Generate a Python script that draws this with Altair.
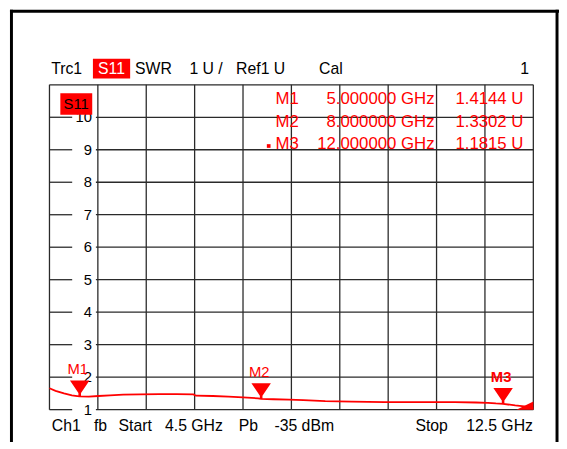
import altair as alt
import pandas as pd

# ---------------- data ----------------
freq_ghz = [4.5, 4.6, 4.74, 4.87, 4.96, 5.0, 5.15, 5.31, 5.5, 5.72, 6.0, 6.32, 6.6, 6.88,
            6.92, 7.2, 7.46, 7.7, 7.95, 8.0, 8.2, 8.46, 8.7, 9.06, 9.5, 10.04, 10.5, 10.85,
            11.2, 11.55, 11.75, 11.88, 12.0, 12.2, 12.35, 12.45, 12.5]
swr = [1.66, 1.58, 1.50, 1.44, 1.42, 1.41, 1.40, 1.42, 1.44, 1.46, 1.47, 1.48, 1.48, 1.47,
       1.43, 1.42, 1.40, 1.38, 1.35, 1.33, 1.32, 1.31, 1.29, 1.26, 1.25, 1.23, 1.23, 1.23,
       1.23, 1.22, 1.21, 1.19, 1.18, 1.13, 1.10, 1.06, 1.03]

marker_names = ["M1", "M2", "M3"]
marker_freq = [5.0, 8.0, 12.0]
marker_swr = [1.4144, 1.3302, 1.1815]
marker_freq_text = ["5.000000 GHz", "8.000000 GHz", "12.000000 GHz"]
marker_val_text = ["1.4144 U", "1.3302 U", "1.1815 U"]

tail_freq = [12.22, 12.5]
tail_low = [1.0, 1.0]
tail_high = [1.0, 1.25]

y_ticks = [1, 2, 3, 4, 5, 6, 7, 8, 9, 10]
x_grid = [4.5, 5.3, 6.1, 6.9, 7.7, 8.5, 9.3, 10.1, 10.9, 11.7, 12.5]

header_words = ["Trc1", "S11", "SWR", "1 U /", "Ref1 U", "Cal", "1"]
footer_words = ["Ch1", "fb", "Start", "4.5 GHz", "Pb", "-35 dBm", "Stop", "12.5 GHz"]

# ---------------- styling ----------------
W, H = 490, 329
RED = "#ff0000"
GRID = "#2a2a2a"
FONT = "Liberation Sans"

xs = alt.Scale(domain=[4.5, 12.5], nice=False, zero=False)
ys = alt.Scale(domain=[1, 11], nice=False, zero=False)

trace_df = pd.DataFrame({"f": freq_ghz, "v": swr})
mk_df = pd.DataFrame({"name": marker_names, "f": marker_freq, "v": marker_swr})
tail_df = pd.DataFrame({"f": tail_freq, "lo": tail_low, "hi": tail_high})
yt_df = pd.DataFrame({"v": y_ticks, "lab": [str(t) for t in y_ticks]})
xg_df = pd.DataFrame({"f": x_grid})
one = alt.Data(values=[{"a": 1}])

X = lambda: alt.X("f:Q", scale=xs, axis=None)


def txt(text, x, y, align="left", color="black", size=15, weight="normal"):
    return alt.Chart(one).mark_text(
        text=text, align=align, baseline="middle", color=color, fontSize=size,
        font=FONT, fontWeight=weight
    ).encode(x=alt.value(x), y=alt.value(y))


def rule(x, x2, y, y2, width=1.3, color=GRID):
    return alt.Chart(one).mark_rule(color=color, strokeWidth=width).encode(
        x=alt.value(x), x2=alt.value(x2), y=alt.value(y), y2=alt.value(y2))


layers = []

# grid
layers.append(alt.Chart(xg_df).mark_rule(color=GRID, strokeWidth=1.3).encode(
    x=X(), y=alt.value(0), y2=alt.value(H)))
layers.append(rule(0, W, 0, 0))
layers.append(alt.Chart(yt_df).mark_rule(color=GRID, strokeWidth=1.3).encode(
    y=alt.Y("v:Q", scale=ys, axis=None), x=alt.value(0), x2=alt.value(23)))
layers.append(alt.Chart(yt_df).mark_rule(color=GRID, strokeWidth=1.3).encode(
    y=alt.Y("v:Q", scale=ys, axis=None), x=alt.value(47), x2=alt.value(W)))
layers.append(alt.Chart(yt_df).mark_text(
    align="right", baseline="middle", fontSize=15, font=FONT, color="black").encode(
    y=alt.Y("v:Q", scale=ys, axis=None), x=alt.value(43), text="lab:N"))

# trace
layers.append(alt.Chart(trace_df).mark_line(color=RED, strokeWidth=1.8).encode(
    x=X(), y=alt.Y("v:Q", scale=ys, axis=None)))
layers.append(alt.Chart(tail_df).mark_area(color=RED, opacity=1).encode(
    x=X(), y=alt.Y("hi:Q", scale=ys, axis=None), y2="lo:Q"))

# markers
tri = "M-0.9,-1.45L0.9,-1.45L0.12,-0.3L0.12,0L-0.12,0L-0.12,-0.3Z"
layers.append(alt.Chart(mk_df).mark_point(
    shape=tri, filled=True, size=480, color=RED, opacity=1, strokeWidth=0).encode(
    x=X(), y=alt.Y("v:Q", scale=ys, axis=None)))
layers.append(alt.Chart(mk_df).transform_filter(alt.datum.name != "M3").mark_text(
    dy=-27, dx=-2, color=RED, fontSize=15, font=FONT).encode(
    x=X(), y=alt.Y("v:Q", scale=ys, axis=None), text="name:N"))
layers.append(alt.Chart(mk_df).transform_filter(alt.datum.name == "M3").mark_text(
    dy=-27, dx=-2, color=RED, fontSize=15, font=FONT, fontWeight="bold").encode(
    x=X(), y=alt.Y("v:Q", scale=ys, axis=None), text="name:N"))

# S11 box inside plot
layers.append(alt.Chart(one).mark_rect(color=RED).encode(
    x=alt.value(11), x2=alt.value(43.3), y=alt.value(8.7), y2=alt.value(30.3)))
layers.append(txt("S11", 27, 20, align="center", size=15))

# marker table
row_y = [14.5, 37.3, 60.3]
for i in range(3):
    layers.append(txt(marker_names[i], 229, row_y[i], color=RED, size=17))
    layers.append(txt(marker_freq_text[i], 390, row_y[i], align="right", color=RED, size=17))
    layers.append(txt(marker_val_text[i], 480, row_y[i], align="right", color=RED, size=17))
layers.append(alt.Chart(one).mark_square(color=RED, size=14, opacity=1).encode(
    x=alt.value(222), y=alt.value(62)))

# header
hy = -16
layers.append(alt.Chart(one).mark_rect(color=RED).encode(
    x=alt.value(44), x2=alt.value(81.7), y=alt.value(-26.3), y2=alt.value(-6.3)))
hx = [1.7, 62.8, 86.7, 141.7, 189, 273, 485.7]
halign = ["left", "center", "left", "left", "left", "left", "right"]
for w, x, a in zip(header_words, hx, halign):
    layers.append(txt(w, x, hy, align=a, color="white" if w == "S11" else "black", size=16))

# footer
fy = 346
fx = [2.4, 45, 70, 117, 191.6, 227.8, 370.6, 489.6]
for i, (w, x) in enumerate(zip(footer_words, fx)):
    layers.append(txt(w, x, fy, align="right" if i == len(footer_words) - 1 else "left", size=16))

# outer frame
layers.append(rule(-40, 516, -74.5, -74.5, width=3, color="black"))
layers.append(rule(-38.5, -38.5, -76, 400, width=3, color="black"))
layers.append(rule(514, 514, -76, 400, width=3, color="black"))

chart = alt.layer(*layers).properties(
    width=W, height=H,
    padding={"left": 42, "top": 75, "right": 26, "bottom": 30},
    autosize=alt.AutoSizeParams(type="none"),
    background="white",
).configure_view(stroke=None)

chart.save("out.html", embed_options={"renderer": "svg", "actions": False})
